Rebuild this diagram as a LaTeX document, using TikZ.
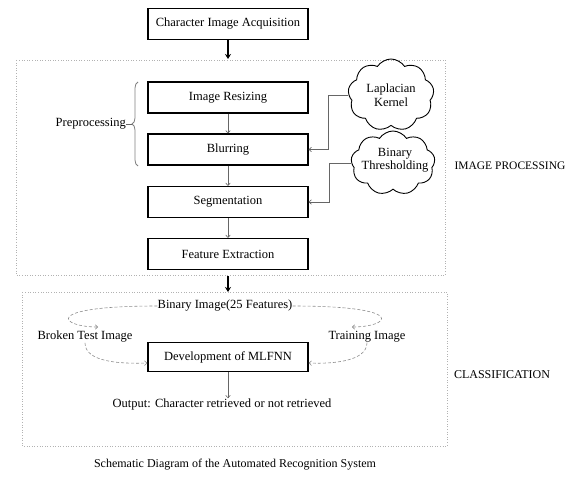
\documentclass[tikz,border=0pt]{standalone}
\usepackage{fontspec}
\setmainfont{Liberation Serif}
\usetikzlibrary{shapes.symbols,decorations.pathreplacing,arrows.meta}
\begin{document}
\begin{tikzpicture}[x=1pt,y=-1pt,
  txt/.style={font=\fontsize{12.5}{13.5}\selectfont},
  procbox/.style={txt,draw=black,line width=1.4pt,minimum width=160pt,minimum height=31pt,inner sep=0pt},
  lbl/.style={txt,inner sep=0pt},
  thinarrow/.style={draw=gray!80!black,line width=0.6pt,-{To[length=3pt,width=5pt]}},
  thickarrow/.style={draw=black,line width=1.5pt,-{Stealth[length=5pt,width=6pt]}},
  dotframe/.style={draw=gray!60,line width=0.6pt,dotted},
  dashlink/.style={draw=gray!90,line width=0.6pt,densely dashed,-{To[length=3pt,width=5pt]}},
  cloudbox/.style={cloud,cloud puffs=9,cloud puff arc=115,cloud ignores aspect,draw=black,line width=0.9pt,inner sep=0pt}
]
\useasboundingbox (0,0) rectangle (586,486);
% frames
\draw[dotframe] (16,60) rectangle (445,275);
\draw[dotframe] (22,292) rectangle (447,446);
\coordinate (iptop) at (228,59);
\coordinate (ipbot) at (228,276);
\coordinate (cltop) at (228,292);
% top
\node[procbox] (acq) at (228,24) {Character Image Acquisition};
\draw[thickarrow] (acq.south) -- (iptop);
% image processing
\node[procbox] (resize) at (228,97.5) {Image Resizing};
\node[procbox] (blur) at (228,149.5) {Blurring};
\node[procbox] (seg) at (228,202) {Segmentation};
\node[procbox] (feat) at (228,254) {Feature Extraction};
\draw[thinarrow] (resize.south) -- (blur.north);
\draw[thinarrow] (blur.south) -- (seg.north);
\draw[thinarrow] (seg.south) -- (feat.north);
\node[cloudbox,minimum width=86pt,minimum height=72pt] (lap) at (391,95) {};
\node[lbl,align=center] (laptext) at (391,95) {Laplacian\\Kernel};
\node[cloudbox,minimum width=84pt,minimum height=64pt] (thr) at (393,163) {};
\node[lbl,align=center] (thrtext) at (395,160) {Binary\\Thresholding};
\draw[thinarrow] (lap.west) -- ++(-20,0) |- (blur.east);
\draw[thinarrow] (thr.west) -- ++(-22,0) |- (seg.east);
% brace
\draw[gray,line width=0.8pt,decorate,decoration={brace,amplitude=6pt}] (138,166) -- (138,82);
\coordinate (bracetip) at (132,124);
\node[lbl,anchor=east] (pre) at (126,124) {Preprocessing};
\draw[gray!80!black,line width=0.6pt] (pre.east) -- (bracetip);
\node[txt,font=\fontsize{11.5}{13}\selectfont,inner sep=0pt] (iplabel) at (510,166) {IMAGE PROCESSING};
\draw[thickarrow] (ipbot) -- (cltop);
% classification
\node[lbl] (binimg) at (225,306) {Binary Image(25 Features)};
\node[lbl] (broken) at (85,337) {Broken Test Image};
\node[lbl] (train) at (367,337) {Training Image};
\node[procbox,minimum height=29pt] (mlfnn) at (228,357) {Development of MLFNN};
\node[lbl] (out) at (222,404) {Output: Character retrieved or not retrieved};
\draw[dashlink] (binimg.west) .. controls (40,306) and (60,327) .. (98,327);
\draw[dashlink] (binimg.east) .. controls (410,306) and (390,327) .. (352,327);
\draw[dashlink] (broken.south) .. controls (85,362) and (120,364) .. ([yshift=-6pt]mlfnn.west);
\draw[dashlink] (train.south) .. controls (367,362) and (330,364) .. ([yshift=-6pt]mlfnn.east);
\draw[thinarrow] (mlfnn.south) -- (mlfnn.south |- out.north);
\node[txt,font=\fontsize{12}{13}\selectfont,inner sep=0pt] (cllabel) at (502,375) {CLASSIFICATION};
% caption
\node[txt,font=\fontsize{12}{13}\selectfont,inner sep=0pt] (caption) at (235,465) {Schematic Diagram of the Automated Recognition System};
\end{tikzpicture}
\end{document}
